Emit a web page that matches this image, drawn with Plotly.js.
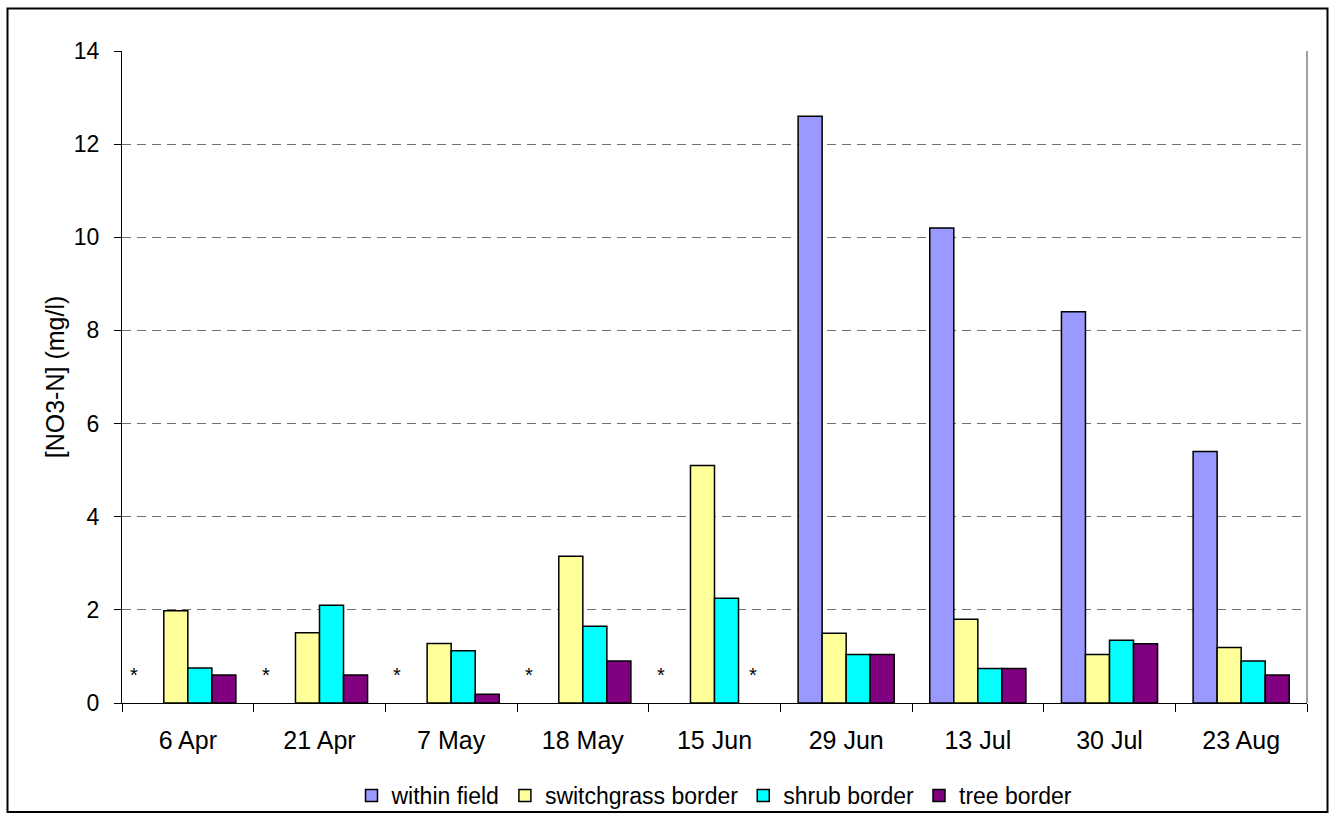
<!DOCTYPE html>
<html>
<head>
<meta charset="utf-8">
<script src="https://cdn.plot.ly/plotly-3.0.1.min.js"></script>
<style>html,body{margin:0;padding:0;background:#fff;}#chart{width:1330px;height:820px;}</style>
</head>
<body>
<div id="chart"></div>
<script>
const dates = ["6 Apr", "21 Apr", "7 May", "18 May", "15 Jun", "29 Jun", "13 Jul", "30 Jul", "23 Aug"];
const withinField = [null, null, null, null, null, 12.6, 10.2, 8.4, 5.4];
const switchgrassBorder = [1.98, 1.51, 1.28, 3.15, 5.1, 1.5, 1.8, 1.04, 1.19];
const shrubBorder = [0.75, 2.1, 1.12, 1.65, 2.25, 1.04, 0.74, 1.35, 0.9];
const treeBorder = [0.6, 0.6, 0.19, 0.9, null, 1.04, 0.74, 1.27, 0.6];
const seriesNames = ["within field", "switchgrass border", "shrub border", "tree border"];
const seriesColors = ["#9999FF", "#FFFF99", "#00FFFF", "#800080"];
// missing-value markers: [date, series index]
const missingMarks = [["6 Apr", 0], ["21 Apr", 0], ["7 May", 0], ["18 May", 0], ["15 Jun", 0], ["15 Jun", 3]];

const seriesData = [withinField, switchgrassBorder, shrubBorder, treeBorder];
const traces = seriesData.map((vals, i) => ({
  type: "bar",
  name: seriesNames[i],
  x: dates,
  y: vals,
  marker: {color: seriesColors[i], line: {color: "#000000", width: 1.5}},
  hoverinfo: "x+y+name"
}));

const FONT = "Liberation Sans, Arial, sans-serif";
const markShift = [-54, 0, 0, 38];
const annotations = missingMarks.map(([d, s]) => ({
  x: d, y: 0.6, xref: "x", yref: "y", text: "*", showarrow: false,
  xshift: markShift[s], font: {family: FONT, size: 20, color: "#000"}
}));

const L = 122, R = 1307, T = 51, B = 703;
const pw = R - L, ph = B - T;
const px = v => (v - L) / pw;
const py = v => (B - v) / ph;

const layout = {
  width: 1330, height: 820,
  margin: {l: L, r: 1330 - R, t: T, b: 820 - B, pad: 0, autoexpand: false},
  paper_bgcolor: "#ffffff", plot_bgcolor: "#ffffff",
  font: {family: FONT, size: 25, color: "#000"},
  barmode: "group",
  bargap: 0.27,
  bargroupgap: 0,
  showlegend: true,
  legend: {orientation: "h", x: 0.5, xanchor: "center", xref: "paper",
           y: (820 - 774) / 820, yanchor: "top", yref: "container",
           bgcolor: "rgba(0,0,0,0)", font: {size: 23}, itemwidth: 30,
           traceorder: "normal", tracegroupgap: 0},
  xaxis: {
    type: "category", showline: true, linecolor: "#000", linewidth: 1, automargin: false,
    ticks: "outside", ticklen: 8, tickcolor: "#000", tickson: "boundaries",
    showgrid: false, zeroline: false, ticklabelstandoff: 15,
    tickfont: {size: 25}
  },
  yaxis: {
    range: [0, 14], dtick: 2, tick0: 0, showline: true, linecolor: "#000", linewidth: 1,
    automargin: false,
    ticks: "outside", ticklen: 7, tickcolor: "#000",
    showgrid: true, gridcolor: "#707070", gridwidth: 1.2, griddash: "9px,6px",
    zeroline: false, ticklabelstandoff: 10, tickfont: {size: 23},
    title: {text: "[NO3-N] (mg/l)", font: {size: 25}, standoff: 2}
  },
  annotations: annotations,
  shapes: [
    {type: "line", xref: "paper", yref: "paper", x0: 1, x1: 1, y0: 0, y1: 1,
     line: {color: "#808080", width: 1.5}},
    {type: "rect", xref: "paper", yref: "paper",
     x0: px(7.5), x1: px(1327.5), y0: py(812), y1: py(8.5),
     line: {color: "#000", width: 2}, fillcolor: "rgba(0,0,0,0)", layer: "below"}
  ]
};

Plotly.newPlot("chart", traces, layout, {displayModeBar: false});
</script>
</body>
</html>
